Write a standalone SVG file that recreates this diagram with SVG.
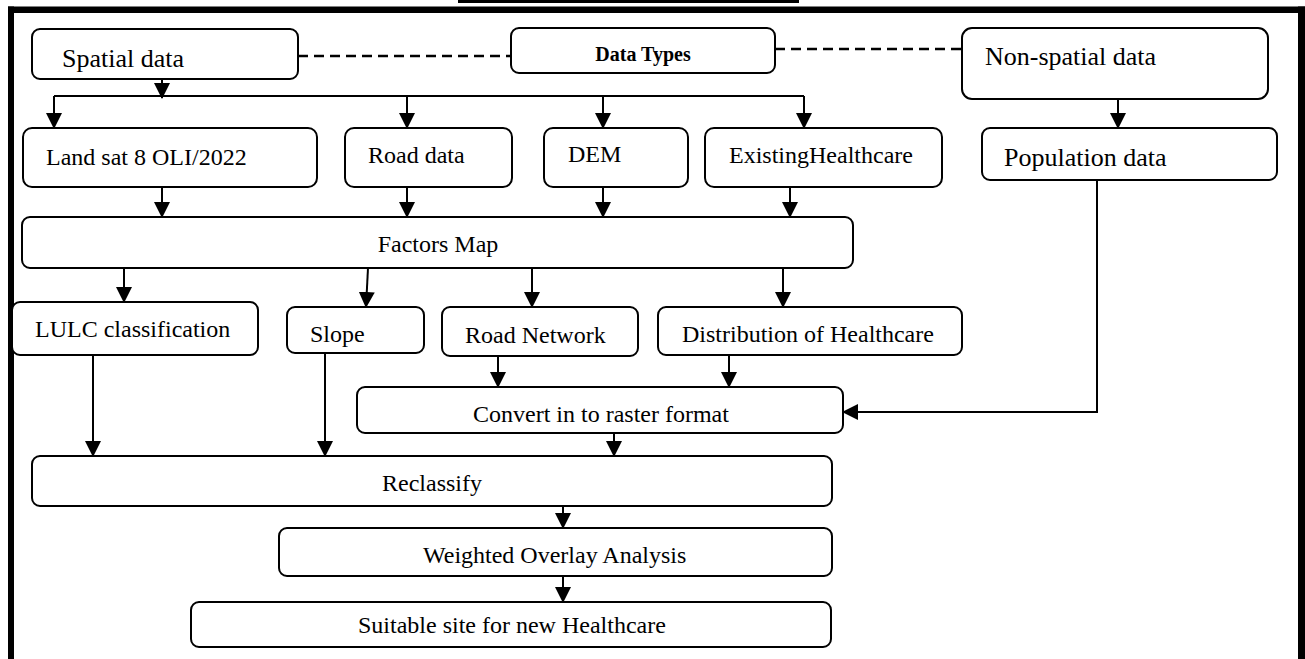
<svg xmlns="http://www.w3.org/2000/svg" width="1305" height="659" viewBox="0 0 1305 659">
<style>
.box{fill:#fff;stroke:#000;stroke-width:2}
.t{font-family:"Liberation Serif","Times New Roman",serif;font-size:24px;fill:#000}
.b{font-weight:bold;font-size:20px}
.big{font-size:26px}
.c{fill:none;stroke:#000;stroke-width:2}
.d{fill:none;stroke:#000;stroke-width:2.5;stroke-dasharray:10 6}
</style>
<defs>
<marker id="ah" markerUnits="userSpaceOnUse" markerWidth="16" markerHeight="16" refX="15" refY="8" orient="auto">
<path d="M0,0 L16,8 L0,16 z" fill="#000"/>
</marker>
</defs>
<rect width="1305" height="659" fill="#fff"/>
<g id="frame">
<rect x="458" y="0" width="341" height="3" fill="#000"/>
<rect x="8" y="6.5" width="1297" height="6.5" fill="#000"/>
<rect x="8" y="6.5" width="6" height="653" fill="#000"/>
<rect x="1298" y="6.5" width="7" height="653" fill="#000"/>
</g>
<g id="connectors">
<path class="d" d="M298,56 H511"/>
<path class="d" d="M775,49 H962"/>
<path class="c" d="M162,79 V98" marker-end="url(#ah)"/>
<path class="c" d="M54,96 H804"/>
<path class="c" d="M54,96 V128" marker-end="url(#ah)"/>
<path class="c" d="M407,96 V128" marker-end="url(#ah)"/>
<path class="c" d="M603,96 V128" marker-end="url(#ah)"/>
<path class="c" d="M804,96 V128" marker-end="url(#ah)"/>
<path class="c" d="M1118,99 V128" marker-end="url(#ah)"/>
<path class="c" d="M162,187 V217" marker-end="url(#ah)"/>
<path class="c" d="M407,187 V217" marker-end="url(#ah)"/>
<path class="c" d="M603,187 V217" marker-end="url(#ah)"/>
<path class="c" d="M790,187 V217" marker-end="url(#ah)"/>
<path class="c" d="M124,268 V302" marker-end="url(#ah)"/>
<path class="c" d="M368,268 L366,307" marker-end="url(#ah)"/>
<path class="c" d="M532,268 V307" marker-end="url(#ah)"/>
<path class="c" d="M783,268 V307" marker-end="url(#ah)"/>
<path class="c" d="M498,356 V387" marker-end="url(#ah)"/>
<path class="c" d="M729,355 V387" marker-end="url(#ah)"/>
<path class="c" d="M1097,180 V412 H843" marker-end="url(#ah)"/>
<path class="c" d="M93,355 V456" marker-end="url(#ah)"/>
<path class="c" d="M325,353 V456" marker-end="url(#ah)"/>
<path class="c" d="M614,433 V456" marker-end="url(#ah)"/>
<path class="c" d="M563,506 V528" marker-end="url(#ah)"/>
<path class="c" d="M563,576 V602" marker-end="url(#ah)"/>
</g>
<g id="spatial"><rect class="box" x="32" y="29" width="266" height="50" rx="8"/><text class="t big" x="62" y="67">Spatial data</text></g>
<g id="datatypes"><rect class="box" x="511" y="28" width="264" height="45" rx="8"/><text class="t b" x="643" y="61" text-anchor="middle">Data Types</text></g>
<g id="nonspatial"><rect class="box" x="962" y="28" width="306" height="71" rx="10"/><text class="t big" x="985" y="65">Non-spatial data</text></g>
<g id="landsat"><rect class="box" x="23" y="128" width="294" height="59" rx="9"/><text class="t" x="46" y="165">Land sat 8 OLI/2022</text></g>
<g id="roaddata"><rect class="box" x="345" y="128" width="167" height="59" rx="9"/><text class="t" x="368" y="163">Road data</text></g>
<g id="dem"><rect class="box" x="544" y="128" width="144" height="59" rx="9"/><text class="t" x="568" y="162">DEM</text></g>
<g id="existing"><rect class="box" x="705" y="128" width="237" height="59" rx="9"/><text class="t" x="729" y="163">ExistingHealthcare</text></g>
<g id="population"><rect class="box" x="982" y="128" width="295" height="52" rx="8"/><text class="t big" x="1004" y="166">Population data</text></g>
<g id="factors"><rect class="box" x="22" y="217" width="831" height="51" rx="8"/><text class="t" x="438" y="252" text-anchor="middle">Factors Map</text></g>
<g id="lulc"><rect class="box" x="12" y="302" width="246" height="53" rx="8"/><text class="t" x="35" y="337">LULC classification</text></g>
<g id="slope"><rect class="box" x="287" y="307" width="137" height="46" rx="8"/><text class="t" x="310" y="342">Slope</text></g>
<g id="roadnetwork"><rect class="box" x="442" y="307" width="196" height="49" rx="8"/><text class="t" x="465" y="343">Road Network</text></g>
<g id="distribution"><rect class="box" x="658" y="307" width="304" height="48" rx="8"/><text class="t" x="682" y="342" font-size="23.5">Distribution of Healthcare</text></g>
<g id="convert"><rect class="box" x="357" y="387" width="486" height="46" rx="8"/><text class="t" x="473" y="422">Convert in to raster format</text></g>
<g id="reclassify"><rect class="box" x="32" y="456" width="800" height="50" rx="8"/><text class="t" x="382" y="491">Reclassify</text></g>
<g id="weighted"><rect class="box" x="279" y="528" width="553" height="48" rx="8"/><text class="t" x="423" y="563">Weighted Overlay Analysis</text></g>
<g id="suitable"><rect class="box" x="191" y="602" width="640" height="45" rx="8"/><text class="t" x="358" y="633">Suitable site for new Healthcare</text></g>
</svg>
